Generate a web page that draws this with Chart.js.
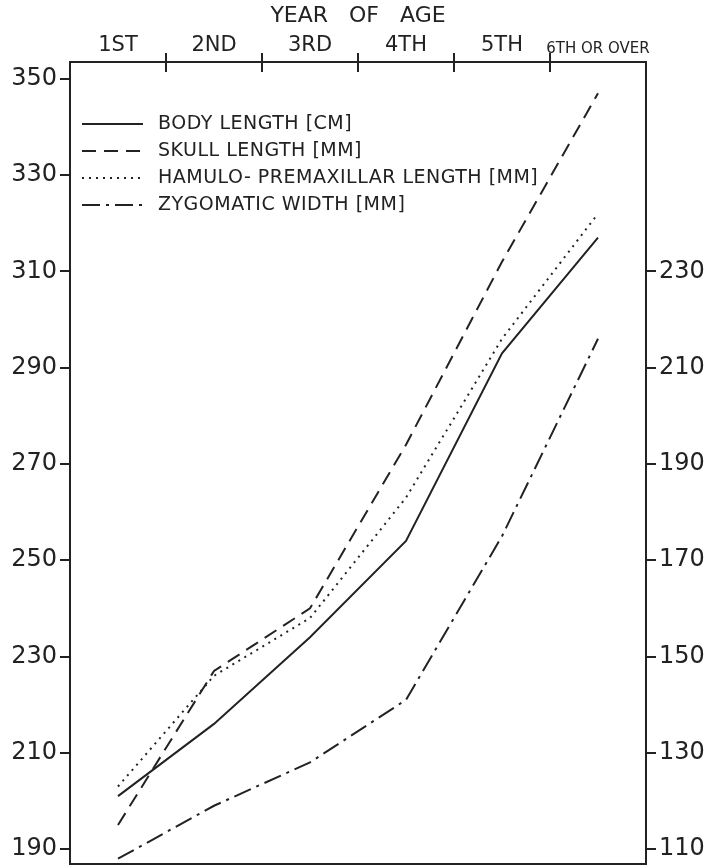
<!DOCTYPE html>
<html>
<head>
<meta charset="utf-8">
<script src="https://cdn.jsdelivr.net/npm/chart.js@4.4.1/dist/chart.umd.min.js"></script>
<style>
  html, body { margin: 0; padding: 0; background: #fff; }
</style>
</head>
<body>
<canvas id="chartKu" width="715" height="868"></canvas>
<script>
const ages = ['1ST', '2ND', '3RD', '4TH', '5TH', '6TH OR OVER'];
const bodyLength = [201, 216, 234, 254, 293, 317];
const skullLength = [195, 227, 240, 274, 312, 347];
const hamuloLength = [203, 226, 238, 263, 296, 322];
const zygomaticWidth = [108, 119, 128, 141, 175, 216];
const leftTicks = [190, 210, 230, 250, 270, 290, 310, 330, 350];
const rightTicks = [110, 130, 150, 170, 190, 210, 230];

const fam = '"DejaVu Sans", sans-serif';
const ink = '#222';

// box round the plot area + the year ticks that cross the top line
const frame = {
  id: 'frame',
  afterDraw(chart) {
    const a = chart.chartArea, c = chart.ctx, x = chart.scales.x;
    c.save();
    c.strokeStyle = ink;
    c.lineWidth = 2;
    c.strokeRect(a.left, a.top, a.right - a.left, a.bottom - a.top);
    for (let i = 1; i < ages.length; i++) {
      const px = (x.getPixelForValue(i - 1) + x.getPixelForValue(i)) / 2;
      c.beginPath();
      c.moveTo(px, a.top - 9);
      c.lineTo(px, a.top + 10);
      c.stroke();
    }
    c.restore();
  }
};

// legend drawn inside the top left of the plot
const innerLegend = {
  id: 'innerLegend',
  afterDatasetsDraw(chart) {
    const c = chart.ctx, a = chart.chartArea;
    c.save();
    c.font = '19px ' + fam;
    c.letterSpacing = '0.5px';
    c.fillStyle = ink;
    c.strokeStyle = ink;
    c.lineWidth = 2;
    c.textBaseline = 'middle';
    chart.data.datasets.forEach((ds, i) => {
      const y = a.top + 62 + i * 27;
      c.setLineDash(ds.borderDash || []);
      c.beginPath();
      c.moveTo(a.left + 12, y);
      c.lineTo(a.left + 73, y);
      c.stroke();
      c.setLineDash([]);
      c.fillText(ds.label, a.left + 88, y);
    });
    c.restore();
  }
};

const noPad = s => { s.paddingTop = 0; s.paddingBottom = 0; s.paddingLeft = 0; s.paddingRight = 0; };

const ctx = document.getElementById('chartKu').getContext('2d');
const chart = new Chart(ctx, {
  type: 'line',
  data: {
    labels: ages,
    datasets: [
      { label: 'BODY LENGTH [CM]', data: bodyLength, yAxisID: 'y', borderDash: [] },
      { label: 'SKULL LENGTH [MM]', data: skullLength, yAxisID: 'y', borderDash: [14, 8] },
      { label: 'HAMULO- PREMAXILLAR LENGTH [MM]', data: hamuloLength, yAxisID: 'y', borderDash: [2, 5] },
      { label: 'ZYGOMATIC WIDTH [MM]', data: zygomaticWidth, yAxisID: 'y2', borderDash: [18, 6, 3, 6] }
    ].map(d => Object.assign(d, {
      borderColor: ink,
      borderWidth: 2,
      pointRadius: 0,
      tension: 0,
      fill: false
    }))
  },
  options: {
    responsive: false,
    devicePixelRatio: 1,
    animation: false,
    layout: { padding: { top: 0, bottom: 4, left: 0, right: 0 } },
    plugins: { legend: { display: false }, tooltip: { enabled: false } },
    scales: {
      x: {
        type: 'category',
        position: 'top',
        offset: true,
        grid: { offset: true, drawOnChartArea: false, drawTicks: false, tickLength: 4 },
        border: { color: ink, width: 2 },
        ticks: {
          color: ink,
          font: c => ({ family: fam, size: c.index === 5 ? 15 : 21 }),
          padding: 4,
          maxRotation: 0,
          autoSkip: false
        },
        title: { display: true, text: 'YEAR   OF   AGE', color: ink, font: { family: fam, size: 22 }, padding: { top: 3, bottom: 0 } },
        afterFit(s) { noPad(s); s.height = 62; }
      },
      y: {
        position: 'left',
        min: 186.9,
        max: 353.5,
        afterBuildTicks(s) { s.ticks = leftTicks.map(v => ({ value: v })); },
        grid: { drawOnChartArea: false, tickLength: 10, color: ink, lineWidth: 2 },
        border: { color: ink, width: 2 },
        ticks: { color: ink, font: { family: fam, size: 24 }, padding: 3 },
        afterFit(s) { noPad(s); s.width = 70; }
      },
      y2: {
        position: 'right',
        min: 106.9,
        max: 273.5,
        afterBuildTicks(s) { s.ticks = rightTicks.map(v => ({ value: v })); },
        grid: { drawOnChartArea: false, tickLength: 10, color: ink, lineWidth: 2 },
        border: { color: ink, width: 2 },
        ticks: { color: ink, font: { family: fam, size: 24 }, padding: 3 },
        afterFit(s) { noPad(s); s.width = 69; }
      }
    }
  },
  plugins: [frame, innerLegend]
});
</script>
</body>
</html>
